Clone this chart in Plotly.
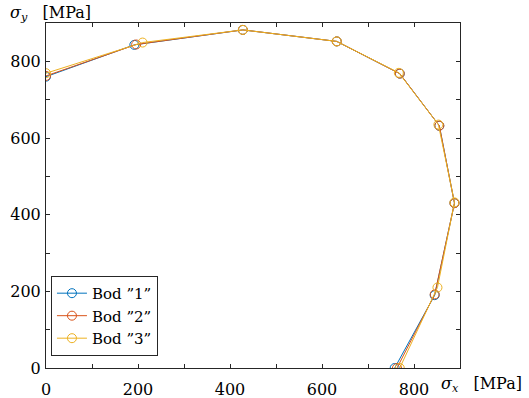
import plotly.graph_objects as go

sx1 = [0, 192, 428, 632, 769, 855, 888, 845, 758]
sy1 = [760, 843, 882, 852, 768, 632, 430, 190, 0]
sx2 = [0, 196, 428, 632, 769, 855, 888, 845, 763]
sy2 = [762, 844, 882, 852, 768, 632, 430, 192, 0]
sx3 = [0, 210, 428, 632, 767, 853, 888, 851, 769]
sy3 = [769, 849, 882, 852, 770, 635, 432, 210, 0]
names = ["Bod ”1”", "Bod ”2”", "Bod ”3”"]
colors = ["#0072BD", "#D95319", "#EDB120"]

xticks = list(range(0, 1000, 100))
yticks = list(range(0, 1000, 100))
xlabels = [str(v) if v % 200 == 0 and v <= 800 else " " for v in xticks]
ylabels = [str(v) if v % 200 == 0 and v <= 800 else " " for v in yticks]

FONT = "DejaVu Serif"
fig = go.Figure()
for sx, sy, n, c in zip([sx1, sx2, sx3], [sy1, sy2, sy3], names, colors):
    fig.add_trace(go.Scatter(x=sx, y=sy, name=n, mode="lines+markers",
                             line=dict(color=c, width=1),
                             marker=dict(symbol="circle-open", size=9, color=c, line=dict(width=1))))

axcommon = dict(showgrid=False, zeroline=False, showline=True, linecolor="#262626", linewidth=1,
                mirror="ticks", ticks="inside", ticklen=4, tickcolor="#262626", automargin=False,
                tickfont=dict(family=FONT, size=16, color="#000"))
fig.update_xaxes(range=[0, 900], tickvals=xticks, ticktext=xlabels, ticklabelstandoff=7, **axcommon)
fig.update_yaxes(range=[0, 900], tickvals=yticks, ticktext=ylabels, ticklabelstandoff=1, **axcommon)

fig.update_layout(
    width=529, height=398,
    margin=dict(l=46, r=69, t=23, b=30),
    paper_bgcolor="white", plot_bgcolor="white",
    font=dict(family=FONT, size=16, color="#000"),
    legend=dict(x=0.012, y=0.035, xanchor="left", yanchor="bottom",
                bgcolor="white", bordercolor="#262626", borderwidth=1,
                font=dict(family=FONT, size=15), tracegroupgap=0),
    annotations=[
        dict(text="<i>σ<sub>x</sub></i>   [MPa]", xref="paper", yref="paper", x=1.0, y=0,
             xanchor="left", yanchor="top", yshift=-4, xshift=-21, showarrow=False,
             font=dict(family=FONT, size=16)),
        dict(text="<i>σ<sub>y</sub></i>   [MPa]", xref="paper", yref="paper", x=0, y=1,
             xanchor="left", yanchor="bottom", xshift=-38, yshift=-3, showarrow=False,
             font=dict(family=FONT, size=16)),
    ],
)
fig.write_html("out.html")
